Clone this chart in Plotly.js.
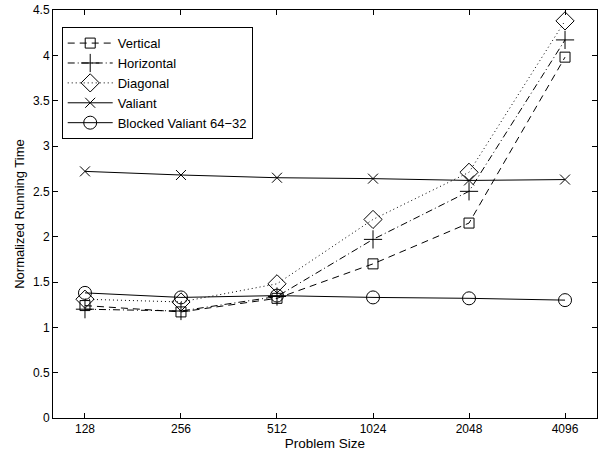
<!DOCTYPE html>
<html><head><meta charset="utf-8">
<script src="https://cdn.plot.ly/plotly-3.0.1.min.js"></script>
<style>html,body{margin:0;padding:0;background:#fff;}</style>
</head><body>
<div id="chart" style="width:610px;height:460px;"></div>
<script>
var categories = ["128", "256", "512", "1024", "2048", "4096"];
var vertical   = [1.24, 1.17, 1.32, 1.70, 2.15, 3.98];
var horizontal = [1.20, 1.18, 1.34, 1.97, 2.50, 4.17];
var diagonal   = [1.31, 1.28, 1.48, 2.19, 2.71, 4.38];
var valiant    = [2.72, 2.68, 2.65, 2.64, 2.62, 2.63];
var blocked    = [1.38, 1.33, 1.35, 1.33, 1.32, 1.30];
var yTicks = [0, 0.5, 1, 1.5, 2, 2.5, 3, 3.5, 4, 4.5];

function tr(name, y, dash, symbol, size) {
  return {
    x: categories, y: y, name: name, type: 'scatter', mode: 'lines+markers',
    line: {color: 'black', width: 1, dash: dash},
    marker: {symbol: symbol, size: size, color: 'black', line: {color: 'black', width: 1}}
  };
}
var data = [
  tr('Vertical', vertical, '7px,5px', 'square-open', 10),
  tr('Horizontal', horizontal, '7px,3px,1px,3px', 'cross-thin-open', 13),
  tr('Diagonal', diagonal, '1px,3px', 'diamond-open', 14),
  tr('Valiant', valiant, 'solid', 'x-thin-open', 10),
  tr('Blocked Valiant 64\u221232', blocked, 'solid', 'circle-open', 13)
];
var layout = {
  width: 610, height: 460,
  margin: {l: 53, r: 13, t: 10, b: 42},
  paper_bgcolor: 'white', plot_bgcolor: 'white',
  font: {family: 'Liberation Sans, Arial, sans-serif', size: 12, color: 'black'},
  showlegend: true,
  legend: {x: 0.016, y: 0.958, xanchor: 'left', yanchor: 'top',
    bordercolor: 'black', borderwidth: 1, bgcolor: 'white',
    font: {size: 13}, itemwidth: 45, tracegroupgap: 0},
  xaxis: {type: 'category', range: [-0.333, 5.333],
    title: {text: 'Problem Size', font: {size: 13.5}, standoff: 2},
    showline: true, linecolor: 'black', linewidth: 1, mirror: 'ticks',
    ticks: 'inside', ticklen: 5, tickcolor: 'black', showgrid: false, zeroline: false,
    tickfont: {size: 12}},
  yaxis: {range: [0, 4.5], tickvals: yTicks, ticktext: yTicks.map(String),
    title: {text: 'Normalized Running Time', font: {size: 13}, standoff: 5},
    showline: true, linecolor: 'black', linewidth: 1, mirror: 'ticks',
    ticks: 'inside', ticklen: 5, tickcolor: 'black', showgrid: false, zeroline: false,
    tickfont: {size: 12}}
};
Plotly.newPlot('chart', data, layout, {displayModeBar: false, staticPlot: true});
</script>
</body></html>
